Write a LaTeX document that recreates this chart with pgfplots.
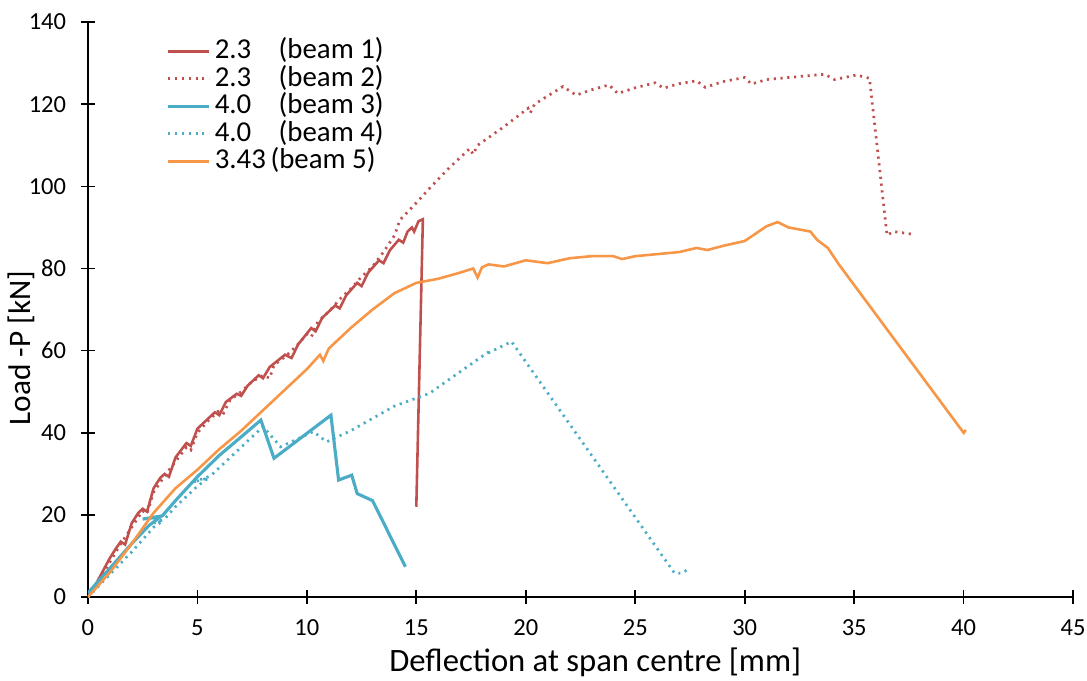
\documentclass[border=0pt]{standalone}
\usepackage{pgfplots}
\pgfplotsset{compat=1.18}
\usepackage{fontspec}
\setmainfont{Carlito}
\definecolor{bred}{HTML}{C0504D}
\definecolor{bblue}{HTML}{4BACC6}
\definecolor{borange}{HTML}{F79646}
\begin{document}
\begin{tikzpicture}
\begin{axis}[
  scale only axis, width=362pt, height=211.3pt,
  xmin=0, xmax=45, ymin=0, ymax=140,
  xtick={0,5,...,45}, ytick={0,20,...,140},
  axis lines*=left,
  axis line style={black, line width=0.6pt},
  tick align=center, major tick length=5pt,
  tick style={black, line width=0.6pt},
  ticklabel style={font=\fontsize{9}{11}\selectfont},
  xticklabel style={yshift=-2.3pt},
  yticklabel style={xshift=-2pt},
  /pgf/number format/assume math mode=true,
  xlabel={Deflection at span centre [mm]},
  ylabel={Load -P [kN]},
  every axis x label/.style={at={(axis description cs:0.515,-0.113)}, anchor=center,
    font=\fontsize{12}{14}\selectfont},
  every axis y label/.style={at={(axis description cs:-0.0671,0.433)}, rotate=90, anchor=center,
    font=\fontsize{11.5}{14}\selectfont},
  legend style={at={(0.080,1)}, anchor=north west, yshift=-6pt, draw=none, fill=none,
    inner sep=0pt, outer sep=0pt, font=\fontsize{10.6}{12}\selectfont,
    nodes={inner xsep=0pt, inner ysep=0pt, text height=7.5pt, text depth=2pt},
    row sep=0.6pt, /tikz/every odd column/.append style={column sep=1.5pt}},
  legend cell align=left,
  legend image code/.code={\draw[#1] (0pt,0pt) -- (15pt,0pt);},
]
% beam 1
\addplot[bred, line width=0.95pt] coordinates {
(0,0) (0.3,2.5) (0.6,5.5) (1,9.5) (1.3,12) (1.5,13.5) (1.7,12.8) (2,18) (2.3,20.5) (2.5,21.5) (2.7,20.8) (3,26.5)
(3.3,29) (3.5,30) (3.7,29.3) (4,34) (4.5,37.5) (4.7,36.8) (5,41) (5.5,43.5) (5.8,45) (6,44.3) (6.3,47.5)
(6.8,49.5) (7,49) (7.3,51.5) (7.8,54) (8,53.3) (8.3,56) (9,59) (9.3,58.2) (9.6,61.5) (10.2,65.5) (10.4,64.7)
(10.7,68) (11.3,71) (11.5,70.3) (11.8,73.5) (12.3,76.5) (12.5,75.7) (12.8,79) (13.3,82) (13.5,81.3)
(13.8,84.5) (14.2,87) (14.4,86.3) (14.6,89) (14.8,90) (14.9,89) (15.1,91.5) (15.3,92) (15.0,22)
};
% beam 2
\addplot[bred, line width=1pt, dash pattern=on 0.8pt off 1.7pt] coordinates {
(0,0) (0.5,4) (1,8.5) (1.5,13) (2,17) (2.5,21) (2.7,20.3) (3,25.5) (3.5,29.5) (4,33) (4.5,36.5) (4.7,35.8)
(5,40) (5.5,43) (6,45.5) (6.2,44.8) (6.5,48) (7,50) (7.5,52.5) (8,54) (8.3,53.3) (8.5,56.5) (9,58.5)
(9.5,61) (10,64) (10.2,63.3) (10.5,67) (11,69.5) (11.5,72.5) (12,75) (12.5,78) (13,80.5) (13.5,84)
(14,88) (14.25,91.8) (15,96) (15.6,99.5) (16.5,104.5) (17.44,109.2) (17.6,107.8) (17.8,110) (19,114.5)
(20.1,119) (20.2,117.8) (20.4,120) (21,122) (21.7,124.3) (22.3,122.2) (23,123.5) (23.8,124.7) (24.2,122.6)
(25,124) (25.9,125.2) (26.3,123.9) (27,125) (27.8,125.7) (28.2,124.1) (29,125.5) (30,126.5) (30.3,124.9)
(31,126) (32,126.5) (33.65,127.3) (34.1,126) (35.1,127.1) (35.7,126.3) (36.5,88.1) (36.8,89) (37.6,88.4)
};
% beam 3
\addplot[bblue, line width=1.15pt] coordinates {
(0,1) (1,7) (2,13) (2.8,17.5) (3.3,19.5) (2.5,19) (3.4,19.8) (4,23.5) (5,29.3) (6,34.5) (7,39)
(7.9,43.1) (8.5,33.8) (11.1,44.3) (11.45,28.5) (12.05,29.7) (12.3,25.2) (13,23.5) (14.5,7.4)
};
% beam 4
\addplot[bblue, line width=1pt, dash pattern=on 0.8pt off 1.7pt] coordinates {
(0,0) (1,5.5) (2,11) (3,17) (3.4,18.5) (3.0,18) (3.5,19) (4,22) (5,27) (5.5,29) (4.8,28) (5.6,29.5)
(6.5,34) (7.5,39) (8,41.5) (8.8,36.6) (10.3,40.3) (10.9,37.8) (12,40.5) (14,46.5) (15.6,49.6) (16.5,53)
(18.3,59.7) (18.2,59.2) (18.5,60) (19.35,62.2) (26.8,5.8) (27.1,5.8) (27.5,7)
};
% beam 5
\addplot[borange, line width=0.95pt] coordinates {
(0,0) (1,6) (2,13) (3,20.5) (4,26.5) (5,31) (6,36) (7,40.5) (8,45.5) (9,50.5) (10,55.5) (10.6,59)
(10.75,57.5) (11,60.5) (12,65.5) (13,70) (14,74) (15,76.5) (16,77.5) (17,79) (17.6,80) (17.8,77.8)
(18,80.3) (18.3,81) (19,80.5) (20,82) (21,81.3) (22,82.5) (23,83) (24,83) (24.4,82.3) (25,83) (26,83.5)
(27,84) (27.8,85) (28.3,84.5) (29,85.5) (30,86.7) (30.5,88.5) (31,90.3) (31.5,91.3) (32,90) (32.5,89.5)
(33,89) (33.3,87) (33.8,85) (34.3,81) (40,40) (40.1,40.7)
};
\legend{\makebox[23.5pt][l]{2.3}(beam 1), \makebox[23.5pt][l]{2.3}(beam 2),
  \makebox[23.5pt][l]{4.0}(beam 3), \makebox[23.5pt][l]{4.0}(beam 4),
  \makebox[20.5pt][l]{3.43}(beam 5)}
\end{axis}
\pgfresetboundingbox
\path (current axis.south west) +(-32.3pt,-30.5pt) (current axis.north east) +(5.1pt,8.1pt);
\end{tikzpicture}
\end{document}
